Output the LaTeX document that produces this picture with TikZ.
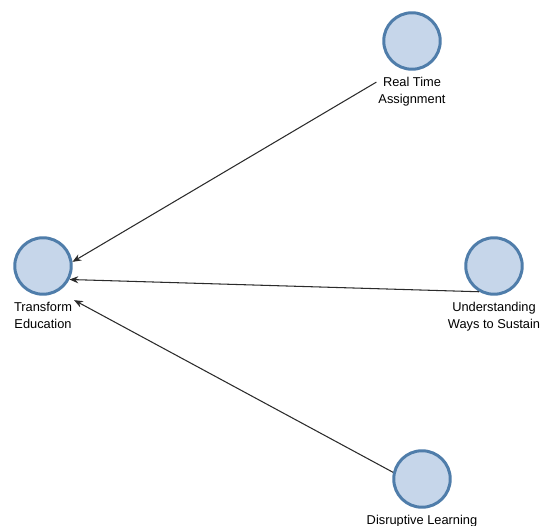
\documentclass[tikz,border=0pt]{standalone}
\usepackage{fontspec}
\setsansfont{Liberation Sans}
\usetikzlibrary{arrows.meta, positioning}
\definecolor{c1}{HTML}{C6D6EA}
\definecolor{c2}{HTML}{4F7DAA}
\definecolor{edgecolor}{HTML}{2B2B2B}

\begin{document}
\begin{tikzpicture}[
    every node/.style={font=\sffamily\fontsize{7.3}{9.6}\selectfont},
    concept/.style={circle, fill=c1, draw=c2, line width=1.7pt, minimum size=1.13cm, inner sep=0pt},
    caption/.style={align=center, inner sep=1pt},
    link/.style={edgecolor, line width=0.6pt, -{Stealth[length=5pt, width=4pt]}},
]
\useasboundingbox (0,0) rectangle (11.02,10.5);

% ---------------------------------------------------------------- concepts
\foreach \name/\pos/\txt in {te/{0.86,5.18}/{Transform\\Education},
                             rta/{8.24,9.68}/{Real Time\\Assignment},
                             uws/{9.88,5.18}/{Understanding\\Ways to Sustain},
                             drl/{8.44,0.92}/{Disruptive Learning}}{
    \node[concept] (\name) at (\pos) {};
    \node[caption, below=2.5pt of \name] (\name L) {\txt};
}

% ---------------------------------------------------------------- links
\draw[link] (rtaL.165) -- (te.8);
\draw[link] (uws.-120) -- (te.-27);
\draw[link] (drl.167) -- (teL.north east);

\end{tikzpicture}
\end{document}
